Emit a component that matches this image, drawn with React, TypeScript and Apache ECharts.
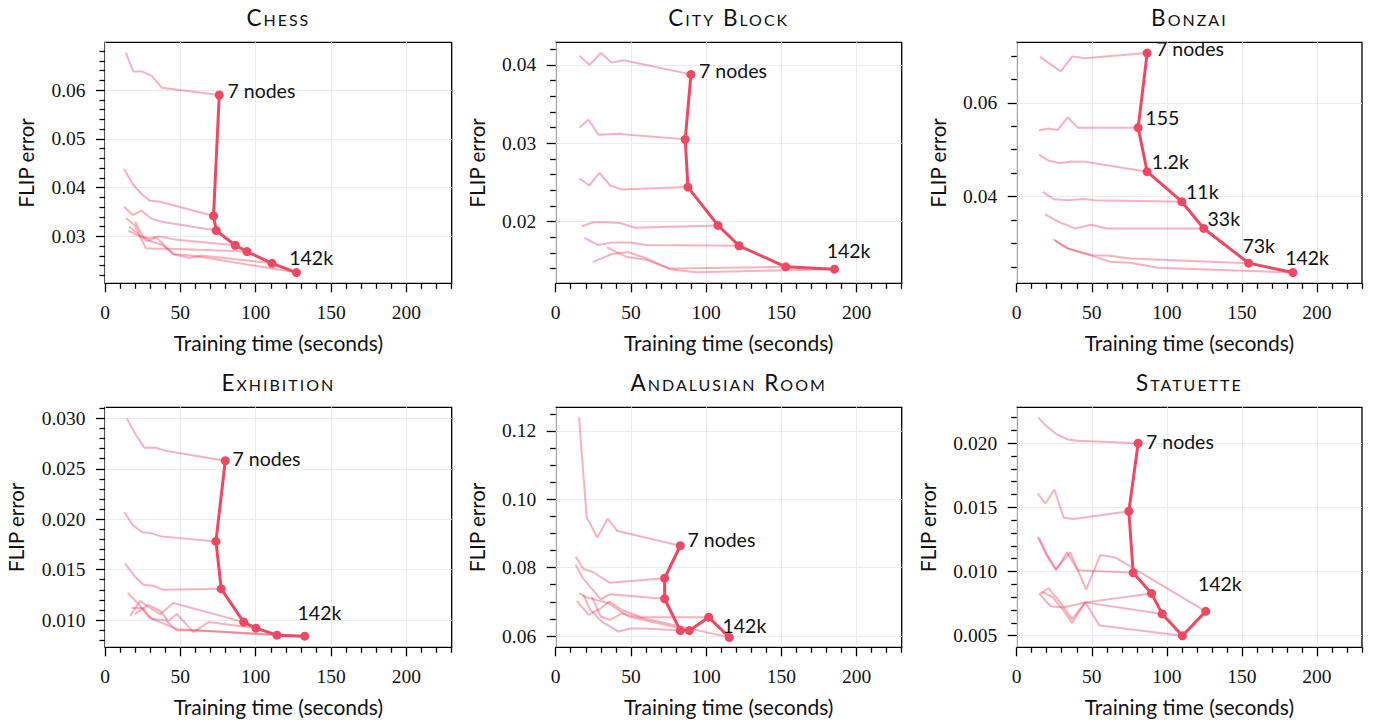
import React, { useEffect, useRef } from 'react';
import * as echarts from 'echarts';

// ---------- data ----------
// Each training curve: [training time (s), FLIP error]; its last point is the converged model.
const CHESS_CURVES = [
  [[13.8, 0.0677], [18.8, 0.0638], [24.8, 0.0638], [31.0, 0.0629], [37.7, 0.0605], [75.8, 0.059]],
  [[12.6, 0.0439], [18.4, 0.0407], [24.3, 0.0387], [29.9, 0.0373], [36.6, 0.0371], [72.0, 0.0342]],
  [[12.6, 0.0361], [18.4, 0.0344], [24.3, 0.0353], [31.0, 0.0336], [37.7, 0.033], [73.8, 0.0312]],
  [[15.5, 0.0312], [22.0, 0.0301], [29.0, 0.0297], [36.0, 0.03], [46.0, 0.0294], [86.4, 0.0282]],
  [[13.9, 0.0338], [20.0, 0.0322], [27.0, 0.0276], [35.0, 0.0275], [44.0, 0.0275], [94.2, 0.0269]],
  [[16.0, 0.032], [22.0, 0.0305], [28.0, 0.029], [34.0, 0.0298], [40.0, 0.028], [46.0, 0.0263], [56.0, 0.0256], [64.0, 0.0261], [110.8, 0.0245]],
  [[20.0, 0.033], [25.0, 0.03], [31.0, 0.0289], [38.0, 0.0283], [45.0, 0.0264], [60.0, 0.026], [127.0, 0.0226]],
];
const CITY_CURVES = [
  [[15.8, 0.0412], [22.4, 0.04], [30.0, 0.04154], [37.3, 0.0403], [45.1, 0.0406], [89.9, 0.0388]],
  [[15.8, 0.032], [21.8, 0.033], [28.4, 0.0311], [42.8, 0.0312], [48.4, 0.0311], [86.1, 0.0305]],
  [[15.8, 0.0255], [22.2, 0.0246], [29.1, 0.0262], [36.2, 0.0246], [43.5, 0.0241], [87.9, 0.0244]],
  [[17.3, 0.0194], [25.1, 0.0199], [34.0, 0.0199], [42.8, 0.0198], [52.8, 0.0192], [107.9, 0.0195]],
  [[19.1, 0.0179], [28.0, 0.017], [37.3, 0.0173], [49.5, 0.0173], [60.6, 0.017], [121.9, 0.0169]],
  [[34.0, 0.0167], [46.8, 0.0155], [60.2, 0.0151], [75.7, 0.014], [152.9, 0.0142]],
  [[24.6, 0.0148], [36.8, 0.0158], [47.9, 0.0161], [60.2, 0.0153], [75.7, 0.0139], [93.5, 0.0135], [185.3, 0.0139]],
];
const BONZAI_CURVES = [
  [[15.5, 0.0698], [29.3, 0.0667], [37.0, 0.0699], [45.5, 0.0695], [86.9, 0.0706]],
  [[14.9, 0.0541], [21.1, 0.0545], [27.3, 0.0542], [33.9, 0.0569], [40.6, 0.0547], [80.9, 0.0547]],
  [[14.9, 0.0489], [21.1, 0.0477], [28.4, 0.0471], [36.1, 0.0475], [45.5, 0.0474], [86.9, 0.0453]],
  [[17.3, 0.041], [25.1, 0.0394], [34.4, 0.0392], [44.3, 0.0395], [52.1, 0.0392], [110.0, 0.0389]],
  [[18.8, 0.0362], [28.8, 0.0345], [38.8, 0.0332], [49.4, 0.034], [59.9, 0.0332], [124.6, 0.0332]],
  [[24.4, 0.0309], [33.3, 0.029], [50.6, 0.0275], [62.1, 0.0274], [75.4, 0.0268], [154.5, 0.0258]],
  [[25.5, 0.0306], [35.0, 0.0288], [50.6, 0.0273], [62.1, 0.0261], [75.4, 0.0259], [94.2, 0.0248], [184.0, 0.0238]],
];
const EXHIBITION_CURVES = [
  [[14.4, 0.03], [19.9, 0.0285], [26.1, 0.0271], [33.2, 0.0271], [39.9, 0.0268], [79.8, 0.0258]],
  [[12.9, 0.0207], [18.4, 0.0194], [25.0, 0.0187], [31.0, 0.0186], [37.2, 0.0183], [73.6, 0.0178]],
  [[13.3, 0.0156], [19.9, 0.0143], [25.5, 0.0135], [32.1, 0.0134], [38.8, 0.013], [77.1, 0.0131]],
  [[16.6, 0.0104], [23.3, 0.0119], [29.9, 0.0112], [36.6, 0.0106], [45.4, 0.0117], [92.0, 0.0098]],
  [[19.9, 0.0106], [28.8, 0.0115], [36.6, 0.0109], [42.1, 0.0099], [47.6, 0.0106], [58.7, 0.0088], [68.7, 0.0098], [100.2, 0.0092]],
  [[15.1, 0.0127], [22.2, 0.0116], [28.4, 0.0104], [33.2, 0.01], [47.6, 0.0091], [114.1, 0.0085]],
  [[17.5, 0.0112], [25.0, 0.0112], [31.0, 0.0101], [40.0, 0.01], [47.6, 0.009], [60.0, 0.009], [132.5, 0.0084]],
];
const ANDALUSIAN_CURVES = [
  [[15.5, 0.124], [20.6, 0.0947], [27.7, 0.0888], [34.6, 0.0943], [41.1, 0.0907], [82.8, 0.0864]],
  [[13.3, 0.0832], [18.4, 0.0796], [24.4, 0.0788], [35.7, 0.0756], [72.4, 0.0769]],
  [[13.3, 0.0808], [18.4, 0.0767], [30.0, 0.0707], [35.7, 0.0722], [72.4, 0.0709]],
  [[18.4, 0.072], [22.9, 0.0678], [30.6, 0.0642], [41.7, 0.0613], [49.5, 0.0622], [59.5, 0.0622], [82.8, 0.0616]],
  [[15.5, 0.0725], [20.6, 0.0713], [35.0, 0.0696], [48.4, 0.0657], [88.8, 0.0616]],
  [[14.0, 0.0703], [21.8, 0.0662], [30.0, 0.0681], [35.7, 0.0701], [44.0, 0.0676], [57.3, 0.0655], [101.7, 0.0655]],
  [[24.0, 0.0715], [30.0, 0.0657], [36.2, 0.0647], [44.0, 0.0666], [115.4, 0.0596]],
];
const STATUETTE_CURVES = [
  [[14.4, 0.022], [20.0, 0.0213], [26.6, 0.0207], [33.7, 0.0203], [41.0, 0.0202], [80.9, 0.02]],
  [[14.0, 0.0161], [19.1, 0.0153], [25.1, 0.0164], [31.3, 0.0142], [37.9, 0.0141], [74.7, 0.0147]],
  [[14.0, 0.0127], [19.7, 0.0113], [26.2, 0.0101], [33.5, 0.0115], [40.6, 0.0101], [77.6, 0.0099]],
  [[14.6, 0.0082], [21.3, 0.0087], [29.0, 0.0076], [36.8, 0.0063], [45.7, 0.0076], [89.8, 0.0083]],
  [[15.7, 0.0082], [22.4, 0.0073], [31.3, 0.0072], [45.7, 0.0076], [96.9, 0.0067]],
  [[17.0, 0.0084], [24.0, 0.008], [31.0, 0.007], [36.8, 0.006], [45.7, 0.0076], [55.2, 0.0058], [110.4, 0.005]],
  [[15.0, 0.0126], [20.3, 0.0113], [26.2, 0.0102], [35.7, 0.0115], [46.3, 0.0086], [55.7, 0.0113], [65.6, 0.0111], [125.9, 0.0069]],
];

const TITLES = ['Chess', 'City Block', 'Bonzai', 'Exhibition', 'Andalusian Room', 'Statuette'];
const CURVES = [CHESS_CURVES, CITY_CURVES, BONZAI_CURVES, EXHIBITION_CURVES, ANDALUSIAN_CURVES, STATUETTE_CURVES];

const NODE_LABELS_DEFAULT = ['7 nodes', '', '', '', '', '', '142k'];
const NODE_LABELS_BONZAI = ['7 nodes', '155', '1.2k', '11k', '33k', '73k', '142k'];
const NODE_LABELS = [NODE_LABELS_DEFAULT, NODE_LABELS_DEFAULT, NODE_LABELS_BONZAI, NODE_LABELS_DEFAULT, NODE_LABELS_DEFAULT, NODE_LABELS_DEFAULT];

const X_RANGE = [0, 230];
const X_MAJOR = [0, 50, 100, 150, 200];
const X_MINOR_STEP = 10;

const Y_RANGES = [[0.0204, 0.0698], [0.0121, 0.0429], [0.0215, 0.0729], [0.0073, 0.0311], [0.0567, 0.1269], [0.0041, 0.0228]];
const Y_MAJORS = [
  [0.03, 0.04, 0.05, 0.06],
  [0.02, 0.03, 0.04],
  [0.04, 0.06],
  [0.01, 0.015, 0.02, 0.025, 0.03],
  [0.06, 0.08, 0.1, 0.12],
  [0.005, 0.01, 0.015, 0.02],
];
const Y_MINOR_STEPS = [0.002, 0.002, 0.005, 0.001, 0.005, 0.001];
const Y_DECIMALS = [2, 2, 2, 3, 2, 3];

// ---------- layout / style ----------
const GRID_RECTS = [
  [105, 42.3, 346.7, 241], [555.7, 42.3, 346, 241], [1016.7, 42.3, 345.3, 241],
  [105, 407.3, 346.7, 240], [555.7, 407.3, 346, 240], [1016.7, 407.3, 345.3, 240],
];
const Y_NAME_GAPS = [67.2, 67.2, 67.2, 77.2, 67.2, 77.2];
const LABEL_OFFSETS = [
  [[8.2, -4.9], null, null, null, null, null, [-7.2, -14.6]],
  [[8.1, -3.9], null, null, null, null, null, [-7.8, -19.2]],
  [[8.9, -4.9], [7.2, -9.9], [4.5, -10.3], [4.2, -10.3], [3.8, -10.3], [-6.2, -17.3], [-7.8, -14.6]],
  [[7.2, -2.6], null, null, null, null, null, [-7.2, -23.3]],
  [[7.2, -5.9], null, null, null, null, null, [-6.8, -12.3]],
  [[7.8, -1.3], null, null, null, null, null, [-7.8, -27.6]],
];

const PINK = '#ee4862';
const INK = '#111111';
const SANS = 'Lato';
const SERIF = "'Liberation Serif', 'DejaVu Serif', serif";
const GRID_COLOR = '#ebebeb';

function stepTicks(lo: number, hi: number, step: number, skip: number[]) {
  const out: number[] = [];
  const start = Math.ceil(lo / step - 1e-9);
  for (let k = start; k * step <= hi + 1e-12; k++) {
    const v = +(k * step).toFixed(6);
    if (!skip.some((s) => Math.abs(s - v) < step * 1e-3)) out.push(v);
  }
  return out;
}

function buildOption() {
  const grids: any[] = [];
  const xAxes: any[] = [];
  const yAxes: any[] = [];
  const series: any[] = [];
  const graphic: any[] = [];
  const minorX: any[] = [];
  const minorY: any[] = [];
  const tickLine = { color: '#000', width: 1.3 };

  GRID_RECTS.forEach((r, i) => {
    const [left, top, width, height] = r;
    grids.push({
      left, top, width, height, show: true, borderColor: '#000', borderWidth: 1.3,
      backgroundColor: 'transparent', containLabel: false, outerBoundsMode: 'none',
    });
    const [ymin, ymax] = Y_RANGES[i];
    const dec = Y_DECIMALS[i];
    xAxes.push({
      type: 'value', gridIndex: i, position: 'bottom', min: X_RANGE[0], max: X_RANGE[1],
      axisLine: { show: false, onZero: false },
      axisTick: { show: true, customValues: X_MAJOR, length: 9, lineStyle: tickLine },
      axisLabel: {
        show: true, customValues: X_MAJOR, margin: 18.7, fontFamily: SERIF, fontSize: 19.5,
        color: INK, lineHeight: 20, formatter: (v: number) => String(v),
      },
      splitLine: { show: true, lineStyle: { color: GRID_COLOR, width: 1 } },
      name: 'Training time (seconds)', nameLocation: 'middle', nameGap: 47,
      nameTextStyle: { fontFamily: SANS, fontSize: 21, color: INK, lineHeight: 24 },
    });
    minorX.push({
      type: 'value', gridIndex: i, position: 'bottom', min: X_RANGE[0], max: X_RANGE[1],
      axisLine: { show: false, onZero: false },
      axisTick: { show: true, customValues: stepTicks(X_RANGE[0], X_RANGE[1], X_MINOR_STEP, X_MAJOR), length: 5.5, lineStyle: tickLine },
      axisLabel: { show: false },
      splitLine: { show: false },
    });
    yAxes.push({
      type: 'value', gridIndex: i, position: 'left', min: ymin, max: ymax,
      axisLine: { show: false, onZero: false },
      axisTick: { show: true, customValues: Y_MAJORS[i], length: 9, lineStyle: tickLine },
      axisLabel: {
        show: true, customValues: Y_MAJORS[i], margin: 19.5, fontFamily: SERIF, fontSize: 19.5,
        color: INK, formatter: (v: number) => v.toFixed(dec),
      },
      splitLine: { show: true, lineStyle: { color: GRID_COLOR, width: 1 } },
      name: 'FLIP error', nameLocation: 'middle', nameRotate: 90, nameGap: Y_NAME_GAPS[i],
      nameTextStyle: { fontFamily: SANS, fontSize: 20.5, color: INK, lineHeight: 24 },
    });
    minorY.push({
      type: 'value', gridIndex: i, position: 'left', min: ymin, max: ymax,
      axisLine: { show: false, onZero: false },
      axisTick: { show: true, customValues: stepTicks(ymin, ymax, Y_MINOR_STEPS[i], Y_MAJORS[i]), length: 5.5, lineStyle: tickLine },
      axisLabel: { show: false },
      splitLine: { show: false },
    });

    const curves = CURVES[i];
    curves.forEach((c) => {
      series.push({
        type: 'line', xAxisIndex: i, yAxisIndex: i, data: c, symbol: 'none', showSymbol: false,
        lineStyle: { color: PINK, width: 2, opacity: 0.42 }, z: 2, silent: true,
      });
    });
    const labels = NODE_LABELS[i];
    series.push({
      type: 'line', xAxisIndex: i, yAxisIndex: i, z: 3, silent: true,
      symbol: 'circle', symbolSize: 9, showSymbol: true,
      lineStyle: { color: PINK, width: 3 }, itemStyle: { color: PINK },
      data: curves.map((c, j) => {
        const off = LABEL_OFFSETS[i][j] || [0, 0];
        return {
          value: c[c.length - 1],
          label: {
            show: labels[j] !== '', formatter: labels[j], position: 'inside', align: 'left',
            verticalAlign: 'middle', offset: off, fontFamily: SANS, fontSize: 19.5, color: INK,
          },
        };
      }),
    });

    graphic.push({
      type: 'text', x: left + width / 2, y: top - 24.5, silent: true,
      style: {
        text: TITLES[i], fill: INK, fontSize: 22.5,
        fontFamily: 'Lato;font-variant:small-caps;letter-spacing:2px',
        textAlign: 'center', textVerticalAlign: 'middle', align: 'center', verticalAlign: 'middle',
      },
    });
  });

  return {
    animation: false,
    backgroundColor: '#ffffff',
    grid: grids,
    xAxis: [...xAxes, ...minorX],
    yAxis: [...yAxes, ...minorY],
    series,
    graphic,
  };
}

export default function App() {
  const ref = useRef<HTMLDivElement>(null);
  useEffect(() => {
    if (!ref.current) return;
    const chart = echarts.init(ref.current, undefined, { renderer: 'svg' });
    chart.setOption(buildOption() as any);
    return () => chart.dispose();
  }, []);
  return (
    <div
      ref={ref}
      style={{ position: 'absolute', left: 0, top: 0, width: 1374, height: 722, background: '#fff' }}
    />
  );
}
